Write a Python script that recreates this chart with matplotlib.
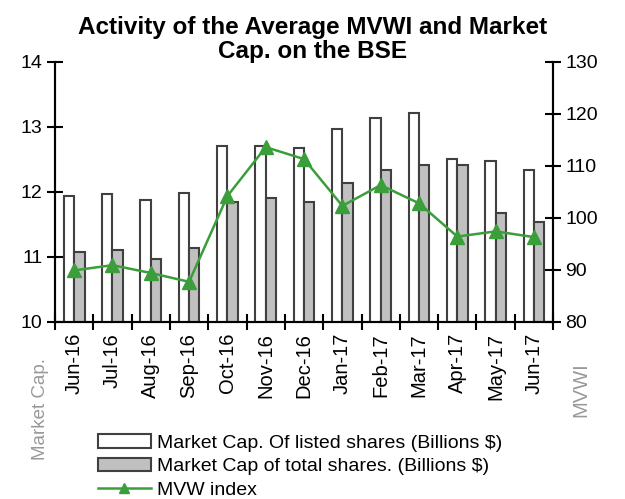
import matplotlib.pyplot as plt
import numpy as np

plt.rcParams['font.family'] = ['Liberation Sans', 'DejaVu Sans']

months = ['Jun-16', 'Jul-16', 'Aug-16', 'Sep-16', 'Oct-16', 'Nov-16', 'Dec-16',
          'Jan-17', 'Feb-17', 'Mar-17', 'Apr-17', 'May-17', 'Jun-17']
cap_listed = [11.93, 11.96, 11.87, 11.99, 12.70, 12.70, 12.67,
              12.97, 13.13, 13.22, 12.51, 12.48, 12.33]
cap_total = [11.07, 11.10, 10.97, 11.13, 11.84, 11.90, 11.84,
             12.14, 12.33, 12.42, 12.42, 11.68, 11.53]
mvw_index = [89.9, 90.9, 89.4, 87.7, 104.2, 113.6, 111.3,
             102.3, 106.3, 102.8, 96.4, 97.4, 96.3]

fig = plt.figure(figsize=(6.25, 4.99), dpi=100)
ax = fig.add_axes([0.088, 0.355, 0.797, 0.521])
ax2 = ax.twinx()

x = np.arange(len(months))
w = 0.27
edge = '#404040'
b1 = ax.bar(x - w / 2, cap_listed, w, color='white', edgecolor=edge, linewidth=1.5,
            label='Market Cap. Of listed shares (Billions $)')
b2 = ax.bar(x + w / 2, cap_total, w, color='#c0c0c0', edgecolor=edge, linewidth=1.5,
            label='Market Cap of total shares. (Billions $)')
ln, = ax2.plot(x, mvw_index, color='#3a9e3a', linewidth=1.8, marker='^',
               markersize=10, label='MVW index')

ax.set_xlim(-0.5, len(months) - 0.5)
ax.set_ylim(10, 14)
ax.set_yticks([10, 11, 12, 13, 14])
ax2.set_ylim(80, 130)
ax2.set_yticks(range(80, 131, 10))

ax.set_xticks(x)
ax.set_xticklabels(months, rotation=90, fontsize=14.5)
ax.set_xticks(np.arange(-0.5, len(months), 1), minor=True)
ax.tick_params(axis='x', which='major', length=0, pad=8)
ax.tick_params(axis='x', which='minor', direction='inout', length=11, width=1.5)
ax.tick_params(axis='y', direction='inout', length=11, width=1.5, labelsize=14)
ax2.tick_params(axis='y', direction='inout', length=11, width=1.5, labelsize=14)

for a in (ax, ax2):
    a.spines['top'].set_visible(False)
    for s in ('left', 'right', 'bottom'):
        a.spines[s].set_linewidth(1.5)

fig.text(0.5, 0.92, 'Activity of the Average MVWI and Market\nCap. on the BSE',
         ha='center', va='center', fontsize=17.5, fontweight='bold', linespacing=1.05)
fig.text(0.065, 0.18, 'Market Cap.', rotation=90, ha='center', va='center',
         fontsize=13.5, color='#999999')
fig.text(0.93, 0.22, 'MVWI', rotation=90, ha='center', va='center',
         fontsize=14.5, color='#999999')

fig.legend([b1, b2, ln], [b1.get_label(), b2.get_label(), ln.get_label()],
           loc='upper left', bbox_to_anchor=(0.157, 0.13), frameon=False,
           fontsize=14, handlelength=2.7, handletextpad=0.35, labelspacing=0.3,
           markerscale=0.7, borderpad=0, borderaxespad=0)

fig.savefig('out.png', dpi=100)
